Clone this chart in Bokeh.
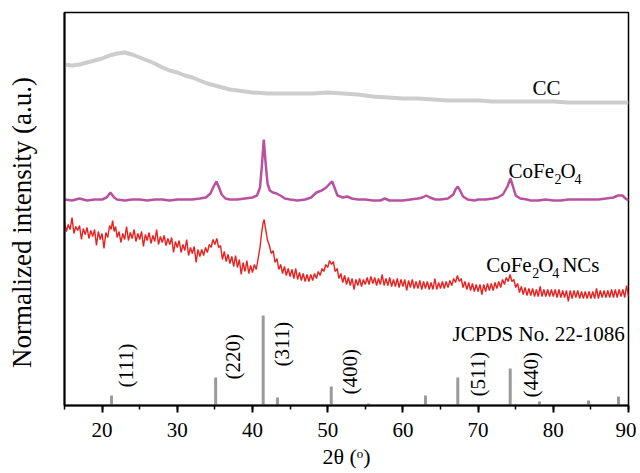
import math
from bokeh.plotting import figure
from bokeh.models import Range1d, SingleIntervalTicker, FixedTicker, Label
from bokeh.embed import file_html
from bokeh.resources import INLINE

# ---------------- data (y in arbitrary offset units) -------------
cc_x = [15, 16, 17, 18, 19, 20, 21, 22, 23, 24, 25, 26, 27, 28, 29, 30, 31, 32, 33, 34,
        35, 36, 37, 38, 39, 40, 42, 44, 46, 48, 50, 52, 54, 56, 58, 60, 62, 64, 66, 68,
        70, 72, 74, 76, 78, 80, 82, 84, 86, 88, 90]
cc_y = [341, 340, 341, 343, 345, 347, 350, 352, 353, 351, 348, 345, 342, 338, 335, 333,
        330, 328, 325, 322, 320, 318, 316, 315, 314, 313, 312, 312, 312, 312, 313, 312,
        311, 309, 308, 307, 307, 306, 305, 305, 305, 304, 304, 304, 304, 304, 303, 303,
        303, 303, 303]

cfo_x = [15, 16, 17, 18, 19, 20, 20.6, 21.1, 21.6, 22, 23, 24, 25, 26, 27, 28, 29, 30, 31,
         32, 33, 33.8, 34.4, 34.9, 35.2, 35.5, 35.9, 36.4, 37, 38, 39, 40, 40.6, 41.0,
         41.25, 41.5, 41.75, 42.0, 42.3, 42.7, 43.2, 43.7, 44.3, 45, 46, 47, 47.8, 48.5,
         49.2, 49.8, 50.3, 50.6, 50.9, 51.3, 52, 52.6, 53.2, 54, 55, 56, 57, 57.6, 58.2,
         59, 60, 61, 62, 62.6, 63.1, 63.6, 64.3, 65, 66, 66.7, 67.0, 67.3, 67.6, 68, 68.6,
         69.5, 70, 71, 72, 72.6, 73.3, 73.9, 74.3, 74.6, 75, 75.6, 76.5, 77, 78, 79, 80,
         81, 82, 83, 84, 85, 86, 87, 88, 88.6, 89.2, 89.6, 90]
cfo_y = [206, 205, 207, 205, 206, 206, 208, 213, 208, 206, 205, 206, 206, 205, 206, 206,
         205, 206, 206, 206, 207, 208, 212, 220, 224, 219, 211, 207, 206, 206, 207, 208,
         210, 218, 240, 266, 242, 222, 215, 213, 212, 210, 207, 206, 205, 206, 208, 213,
         215, 218, 222, 224, 218, 210, 208, 209, 207, 206, 206, 205, 205, 207, 205, 205,
         205, 206, 207, 208, 210, 208, 206, 206, 207, 211, 216, 219, 215, 209, 206, 205,
         206, 206, 207, 208, 211, 219, 227, 220, 210, 207, 206, 205, 205, 206, 205, 205,
         206, 206, 206, 206, 206, 207, 208, 210, 210, 207, 205]

ncs_x = [15.0, 15.25, 15.5, 15.75, 16.0, 16.25, 16.5, 16.75, 17.0, 17.25, 17.5, 17.75,
         18.0, 18.25, 18.5, 18.75, 19.0, 19.25, 19.5, 19.75, 20.0, 20.25, 20.5, 20.75,
         21.0, 21.2, 21.4, 21.6, 21.8, 22.0, 22.25, 22.5, 22.75, 23.0, 23.25, 23.5, 23.75,
         24.0, 24.25, 24.5, 24.75, 25.0, 25.25, 25.5, 25.75, 26.0, 26.25, 26.5, 26.75,
         27.0, 27.25, 27.5, 27.75, 28.0, 28.25, 28.5, 28.75, 29.0, 29.25, 29.5, 29.75,
         30.0, 30.25, 30.5, 30.75, 31.0, 31.25, 31.5, 31.75, 32.0, 32.25, 32.5, 32.75,
         33.0, 33.25, 33.5, 33.75, 34.0, 34.25, 34.5, 34.75, 35.0, 35.25, 35.5, 35.75,
         36.0, 36.25, 36.5, 36.75, 37.0, 37.25, 37.5, 37.75, 38.0, 38.25, 38.5, 38.75,
         39.0, 39.25, 39.5, 39.75, 40.0, 40.25, 40.5, 40.75, 41.0, 41.2, 41.4, 41.55,
         41.7, 41.85, 42.0, 42.25, 42.5, 42.75, 43.0, 43.25, 43.5, 43.75, 44.0, 44.25,
         44.5, 44.75, 45.0, 45.25, 45.5, 45.75, 46.0, 46.25, 46.5, 46.75, 47.0, 47.25,
         47.5, 47.75, 48.0, 48.25, 48.5, 48.75, 49.0, 49.25, 49.5, 49.75, 50.0, 50.25,
         50.5, 50.75, 51.0, 51.25, 51.5, 51.75, 52.0, 52.25, 52.5, 52.75, 53.0, 53.25,
         53.5, 53.75, 54.0, 54.25, 54.5, 54.75, 55.0, 55.25, 55.5, 55.75, 56.0, 56.25,
         56.5, 56.75, 57.0, 57.25, 57.5, 57.75, 58.0, 58.25, 58.5, 58.75, 59.0, 59.25,
         59.5, 59.75, 60.0, 60.25, 60.5, 60.75, 61.0, 61.25, 61.5, 61.75, 62.0, 62.25,
         62.5, 62.75, 63.0, 63.25, 63.5, 63.75, 64.0, 64.25, 64.5, 64.75, 65.0, 65.25,
         65.5, 65.75, 66.0, 66.25, 66.5, 66.75, 67.0, 67.25, 67.5, 67.75, 68.0, 68.25,
         68.5, 68.75, 69.0, 69.25, 69.5, 69.75, 70.0, 70.25, 70.5, 70.75, 71.0, 71.25,
         71.5, 71.75, 72.0, 72.25, 72.5, 72.75, 73.0, 73.25, 73.5, 73.75, 74.0, 74.25,
         74.5, 74.75, 75.0, 75.25, 75.5, 75.75, 76.0, 76.25, 76.5, 76.75, 77.0, 77.25,
         77.5, 77.75, 78.0, 78.25, 78.5, 78.75, 79.0, 79.25, 79.5, 79.75, 80.0, 80.25,
         80.5, 80.75, 81.0, 81.25, 81.5, 81.75, 82.0, 82.25, 82.5, 82.75, 83.0, 83.25,
         83.5, 83.75, 84.0, 84.25, 84.5, 84.75, 85.0, 85.25, 85.5, 85.75, 86.0, 86.25,
         86.5, 86.75, 87.0, 87.25, 87.5, 87.75, 88.0, 88.25, 88.5, 88.75, 89.0, 89.25,
         89.5, 89.75, 90.0]
ncs_y = [183, 174, 181, 176, 188, 172, 179, 175, 180, 166, 177, 171,
         178, 167, 175, 169, 176, 160, 174, 166, 172, 157, 173, 168,
         180, 176, 185, 174, 179, 168, 174, 163, 172, 166, 179, 165, 173,
         167, 176, 164, 172, 166, 174, 159, 171, 165, 173, 162, 170,
         164, 176, 161, 169, 163, 170, 160, 167, 161, 168, 153, 164,
         158, 165, 153, 161, 155, 166, 150, 158, 152, 159, 143, 156,
         149, 156, 150, 158, 153, 161, 158, 166, 161, 167, 158, 160,
         146, 154, 144, 151, 142, 149, 139, 150, 138, 146, 131, 143,
         134, 145, 132, 140, 133, 141, 136, 147, 158, 172, 182, 186,
         178, 172, 165, 160, 152, 155, 143, 147, 136, 141, 132, 139,
         130, 137, 129, 136, 127, 137, 126, 133, 125, 132, 124, 131,
         124, 131, 125, 132, 127, 134, 130, 137, 134, 141, 138, 145,
         141, 144, 134, 137, 127, 132, 123, 130, 121, 128, 120, 127,
         116, 126, 120, 127, 119, 126, 121, 128, 121, 129, 122, 128,
         120, 127, 121, 131, 120, 127, 120, 128, 119, 126, 119, 127,
         118, 126, 119, 126, 115, 125, 118, 126, 117, 124, 117, 125,
         116, 124, 117, 124, 116, 123, 116, 127, 116, 123, 117, 124,
         117, 124, 118, 125, 120, 127, 123, 130, 124, 127, 118, 124,
         116, 123, 115, 122, 114, 121, 114, 121, 111, 121, 114, 122,
         115, 122, 115, 123, 117, 124, 118, 126, 121, 128, 124, 131,
         124, 126, 118, 122, 113, 119, 111, 118, 110, 117, 110, 117,
         109, 116, 109, 119, 109, 116, 109, 116, 109, 116, 109, 116,
         108, 116, 108, 115, 108, 115, 104, 115, 107, 115, 108, 115,
         107, 114, 107, 114, 107, 114, 107, 114, 107, 117, 107, 115,
         108, 115, 108, 115, 108, 116, 108, 116, 108, 116, 109, 116,
         108, 120, 109]

ref_pos = [21.25, 35.1, 41.42, 43.32, 50.47, 55.43, 63.0, 67.3, 74.27, 78.16, 84.68, 88.67]
ref_int = [10, 28, 90, 8, 19, 2, 10, 28, 37, 4, 5, 9]

hkl_text = ["(111)", "(220)", "(311)", "(400)", "(511)", "(440)"]
hkl_x = [23.24, 37.47, 43.92, 53.03, 69.99, 77.10]
hkl_y = [18, 26, 39, 11, 9, 8]

x_ticks_interval = 10

SERIF = "Liberation Serif"

p = figure(width=636, height=473, x_range=Range1d(15, 90), y_range=Range1d(0, 393),
           output_backend="svg", toolbar_location=None,
           min_border_left=64, min_border_right=8, min_border_top=12, min_border_bottom=68)
p.grid.visible = False
p.outline_line_color = "black"
p.outline_line_width = 1.5
p.background_fill_color = "white"
p.border_fill_color = "white"

xa = p.xaxis[0]
xa.ticker = SingleIntervalTicker(interval=x_ticks_interval, num_minor_ticks=2)
xa.major_tick_out = 7
xa.major_tick_in = 0
xa.minor_tick_out = 4
xa.minor_tick_in = 0
xa.axis_line_width = 2
xa.major_tick_line_width = 2
xa.minor_tick_line_width = 1.5
xa.major_label_text_font = SERIF
xa.major_label_text_font_size = "21px"
xa.major_label_text_color = "black"
xa.major_label_standoff = 10
xa.axis_label = "2θ (ᵒ)"
xa.axis_label_text_font = SERIF
xa.axis_label_text_font_size = "22px"
xa.axis_label_text_font_style = "normal"
xa.axis_label_text_color = "black"
xa.axis_label_standoff = 4

ya = p.yaxis[0]
ya.ticker = FixedTicker(ticks=[])
ya.major_tick_out = 0
ya.minor_tick_out = 0
ya.axis_line_width = 2
ya.axis_label = "Normalized intensity (a.u.)\u00a0\u00a0\u00a0\u00a0"
ya.axis_label_text_font = SERIF
ya.axis_label_text_font_size = "27px"
ya.axis_label_text_font_style = "normal"
ya.axis_label_text_color = "black"
ya.axis_label_standoff = 28

# curves
p.line(cc_x, cc_y, line_color="#cdcdcd", line_width=4)
p.line(cfo_x, cfo_y, line_color="#b9519f", line_width=2.5)
p.line(ncs_x, ncs_y, line_color="#e8211f", line_width=1.4)

# reference sticks
p.segment(x0=ref_pos, y0=[0] * len(ref_pos), x1=ref_pos, y1=ref_int,
          line_color="#9a9a9a", line_width=3)


def lab(x, y, text, size="21px", xo=0, yo=0, angle=0, align="left", baseline="alphabetic"):
    p.add_layout(Label(x=x, y=y, text=text, x_offset=xo, y_offset=yo, angle=angle,
                       text_font=SERIF, text_font_size=size, text_color="black",
                       text_align=align, text_baseline=baseline))


for t, hx, hy in zip(hkl_text, hkl_x, hkl_y):
    lab(hx, hy, t, angle=math.pi / 2, baseline="middle")

lab(77.23, 318, "CC")

# CoFe2O4
lab(74.04, 235, "CoFe")
lab(74.04, 235, "2", size="14px", xo=46, yo=-8)
lab(74.04, 235, "O", xo=52)
lab(74.04, 235, "4", size="14px", xo=66, yo=-8)

# CoFe2O4 NCs
lab(71.07, 141, "CoFe")
lab(71.07, 141, "2", size="14px", xo=46, yo=-8)
lab(71.07, 141, "O", xo=52)
lab(71.07, 141, "4", size="14px", xo=66, yo=-8)
lab(71.07, 141, "NCs", xo=76)

lab(66.6, 72, "JCPDS No. 22-1086")

open("out.html", "w").write(file_html(p, INLINE))
